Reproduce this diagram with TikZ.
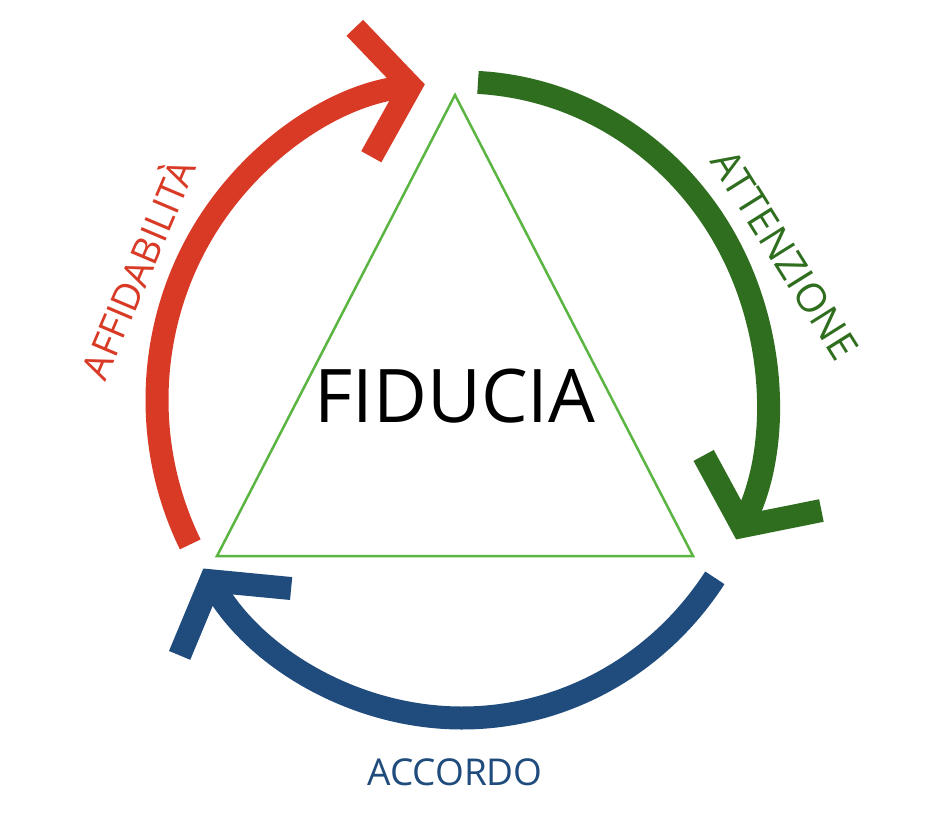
\documentclass[tikz,border=0pt]{standalone}
\usepackage{fontspec}
\setmainfont{Open Sans}
\usetikzlibrary{arrows.meta}
\definecolor{cred}{HTML}{D93A26}
\definecolor{cgreen}{HTML}{2F6E1E}
\definecolor{cblue}{HTML}{1F4B7D}
\definecolor{ctri}{HTML}{5BB543}
\begin{document}
\begin{tikzpicture}[x=1pt,y=-1pt,
  arc/.style={line width=23pt,-{Straight Barb[length=48pt,width=130pt]}}]
\useasboundingbox (0,0) rectangle (948,822);
\fill[white] (0,0) rectangle (948,822);
\coordinate (c) at (462,400);
\coordinate (A) at (455,95);
\coordinate (B) at (217,556);
\coordinate (C) at (693,556);
\draw[ctri,line width=2.5pt] (A) -- (B) -- (C) -- cycle;
\draw[arc,cred] ([shift={(207:305 and -318)}]c) arc[start angle=207,end angle=97,x radius=305,y radius=-318];
\draw[arc,cgreen] ([shift={(87:305 and -318)}]c) arc[start angle=87,end angle=-26,x radius=305,y radius=-318];
\draw[arc,cblue] ([shift={(-34:305 and -318)}]c) arc[start angle=-34,end angle=-148,x radius=305,y radius=-318];
\node (fid) at (455,396) {\fontsize{74}{76}\selectfont FIDUCIA};
\node[cblue] (acc) at (455,772) {\fontsize{37}{39}\selectfont ACCORDO};
\node[cgreen,rotate=-58] (att) at (785,255) {\fontsize{40}{42}\selectfont ATTENZIONE};
\node[cred,rotate=67] (aff) at (135,268) {\fontsize{38}{40}\selectfont AFFIDABILITÀ};
\end{tikzpicture}
\end{document}
